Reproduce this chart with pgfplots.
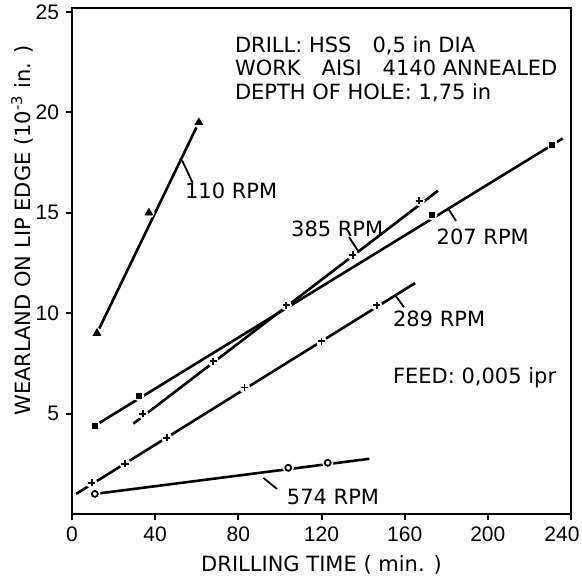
\documentclass[border=0pt]{standalone}
\usepackage{pgfplots}
\pgfplotsset{compat=1.18}
\usepackage{fontspec}
\setmainfont{DejaVu Sans}
\newfontfamily\tickfont{Liberation Sans}

% line through the fitted ends, white halo under the marks, then the marks
\newcommand{\series}[3]{%
  \addplot[black, line width=1.3pt, forget plot] coordinates {#1};
  \addplot[only marks, mark=*, mark size=2.6pt, white, forget plot] coordinates {#2};
  \addplot[only marks, black, #3, forget plot] coordinates {#2};
}

\begin{document}
\begin{tikzpicture}
\begin{axis}[
  scale only axis, width=249.5pt, height=253pt,
  xmin=0, xmax=240, ymin=0, ymax=25.2,
  xtick={0,40,...,240}, ytick={5,10,15,20,25},
  xticklabels={0,40,80,120,160,200,\makebox[0pt][c]{240\hspace{9pt}}},
  xtick pos=left, ytick pos=left, tick align=outside,
  major tick length=3pt,
  axis line style={line width=1.2pt},
  every tick/.style={line width=1pt, black},
  /pgf/number format/assume math mode=true,
  tick label style={font=\tickfont\fontsize{10.5}{12}\selectfont},
  label style={font=\fontsize{10.5}{12}\selectfont},
  xlabel={DRILLING TIME ( min. )},
  xlabel style={at={(rel axis cs:0.5,-0.1008)}, anchor=center},
  ylabel={WEARLAND ON LIP EDGE (10\textsuperscript{-3} in. )},
  ylabel style={at={(rel axis cs:-0.1,0.56)}, anchor=center},
  clip=false,
]
% 110 RPM
\series{(12,9) (61,19.5)}{(12,9) (37,15) (61,19.5)}{mark=triangle*, mark size=2.2pt}
% 207 RPM
\series{(11,4.4) (236,18.7)}{(11,4.4) (32,5.9) (173,14.9) (231,18.4)}{mark=square*, mark size=1.3pt}
% 385 RPM
\series{(29.5,4.5) (176,16.1)}{(34,5.0) (68,7.6) (103,10.4) (135,12.9) (167,15.6)}{mark=+, mark size=1.8pt, line width=0.9pt}
% 289 RPM
\series{(2,1.0) (165,11.5)}{(9.5,1.55) (25.5,2.5) (45.5,3.8) (83,6.3) (120,8.6) (146.5,10.4)}{mark=+, mark size=1.8pt, line width=0.9pt}
% 574 RPM
\series{(11,1.0) (143,2.75)}{(11,1.0) (104,2.3) (123,2.55)}{mark=o, mark size=1.5pt, line width=0.9pt}

\begin{scope}[font=\fontsize{10.5}{12}\selectfont]
\node[anchor=west] at (axis cs:75,23.3) {DRILL: HSS\quad 0,5 in DIA};
\node[anchor=west] at (axis cs:75,22.2) {WORK\quad AISI\quad 4140 ANNEALED};
\node[anchor=west] at (axis cs:75,21.0) {DEPTH OF HOLE: 1,75 in};
\node[anchor=west] at (axis cs:151,6.8) {FEED: 0,005 ipr};

\node[anchor=west] at (axis cs:51,16.1) {110 RPM};
\node[anchor=west] at (axis cs:102,14.2) {385 RPM};
\node[anchor=west] at (axis cs:172,13.8) {207 RPM};
\node[anchor=west] at (axis cs:151,9.7) {289 RPM};
\node[anchor=west] at (axis cs:100,0.85) {574 RPM};
\end{scope}
\draw[line width=0.9pt] (axis cs:53,17.6) -- (axis cs:58,16.5);
\draw[line width=0.9pt] (axis cs:133.2,13.8) -- (axis cs:137.6,13.1);
\draw[line width=0.9pt] (axis cs:181,15.2) -- (axis cs:184.7,14.6);
\draw[line width=0.9pt] (axis cs:155.4,10.9) -- (axis cs:159.7,10.3);
\draw[line width=0.9pt] (axis cs:92,1.8) -- (axis cs:98.6,1.25);
\end{axis}
\pgfresetboundingbox
\path ([shift={(-36pt,-32pt)}]current axis.south west) rectangle ([shift={(5.5pt,4pt)}]current axis.north east);
\end{tikzpicture}
\end{document}
